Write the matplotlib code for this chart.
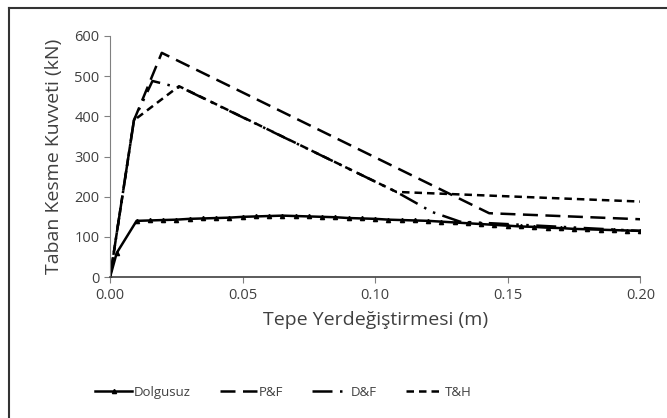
import matplotlib
matplotlib.use("Agg")
import matplotlib.pyplot as plt
from matplotlib.lines import Line2D

plt.rcParams['font.family'] = ['Open Sans', 'DejaVu Sans']

# Data
dol_x = [0.0, 0.0025, 0.01, 0.015, 0.02, 0.025, 0.03, 0.035, 0.04, 0.045, 0.05, 0.055,
         0.06, 0.065, 0.07, 0.075, 0.08, 0.085, 0.09, 0.095, 0.10, 0.105, 0.11, 0.115,
         0.12, 0.125, 0.13, 0.135, 0.14, 0.145, 0.15, 0.155, 0.16, 0.165, 0.17, 0.175,
         0.18, 0.185, 0.19, 0.195, 0.20]
dol_y = [0, 60, 140, 141, 142, 143, 145, 146, 147, 148, 150, 151,
         152, 153, 152, 151, 150, 149, 147, 146, 145, 143, 142, 141,
         140, 138, 136, 134, 132, 130, 128, 126, 125, 123, 122, 120,
         119, 118, 117, 116, 115]

pf_x = [0.0, 0.009, 0.0195, 0.143, 0.20]
pf_y = [0, 390, 558, 159, 144]

df_x = [0.0, 0.009, 0.016, 0.028, 0.108, 0.1215, 0.132, 0.20]
df_y = [0, 390, 488, 468, 212, 162, 138, 115]

th_x = [0.0, 0.009, 0.026, 0.108, 0.20]
th_y = [0, 390, 475, 212, 188]

x_ticks = [0.00, 0.05, 0.10, 0.15, 0.20]
y_ticks = [0, 100, 200, 300, 400, 500, 600]

fig = plt.figure(figsize=(6.67, 4.18), dpi=100)
ax = fig.add_axes([0.165, 0.337, 0.795, 0.577])

ax.plot(dol_x, dol_y, color='black', lw=1.8, marker='^', ms=3, label='Dolgusuz')
ax.plot(pf_x, pf_y, color='black', lw=1.8, dashes=(6, 3), label='P&F')
ax.plot(df_x, df_y, color='black', lw=1.8, dashes=(8, 3, 1, 3, 1, 3), label='D&F')
ax.plot(th_x, th_y, color='black', lw=1.8, dashes=(3, 2), label='T&H')

ax.set_xlim(0, 0.20)
ax.set_ylim(0, 600)
ax.set_xticks(x_ticks)
ax.set_xticklabels([f"{v:.2f}" for v in x_ticks])
ax.set_yticks(y_ticks)
ax.set_yticklabels([str(v) for v in y_ticks])

for s in ['top', 'right']:
    ax.spines[s].set_visible(False)
ax.spines['left'].set_color('#808080')
ax.spines['bottom'].set_color('#404040')
ax.spines['bottom'].set_linewidth(1.2)
ax.tick_params(axis='both', direction='out', length=4, color='#808080',
               labelsize=10.5, labelcolor='#404040')

ax.set_xlabel('Tepe Yerdeğiştirmesi (m)', fontsize=14, color='#404040', labelpad=6)
ax.set_ylabel('Taban Kesme Kuvveti (kN)', fontsize=14, color='#404040', labelpad=8)

leg = fig.legend(loc='center', bbox_to_anchor=(0.425, 0.062), ncol=4, frameon=False,
                 fontsize=9.5, handlelength=2.8, columnspacing=2.2, handletextpad=0.15)
for t in leg.get_texts():
    t.set_color('#404040')

# figure border lines (left and top)
fig.add_artist(Line2D([9/667, 9/667], [0, 1 - 8/418], transform=fig.transFigure,
                      color='#333333', lw=1.5))
fig.add_artist(Line2D([9/667, 1], [1 - 8/418, 1 - 8/418], transform=fig.transFigure,
                      color='#333333', lw=1.5))

fig.savefig('out.png', dpi=100)
